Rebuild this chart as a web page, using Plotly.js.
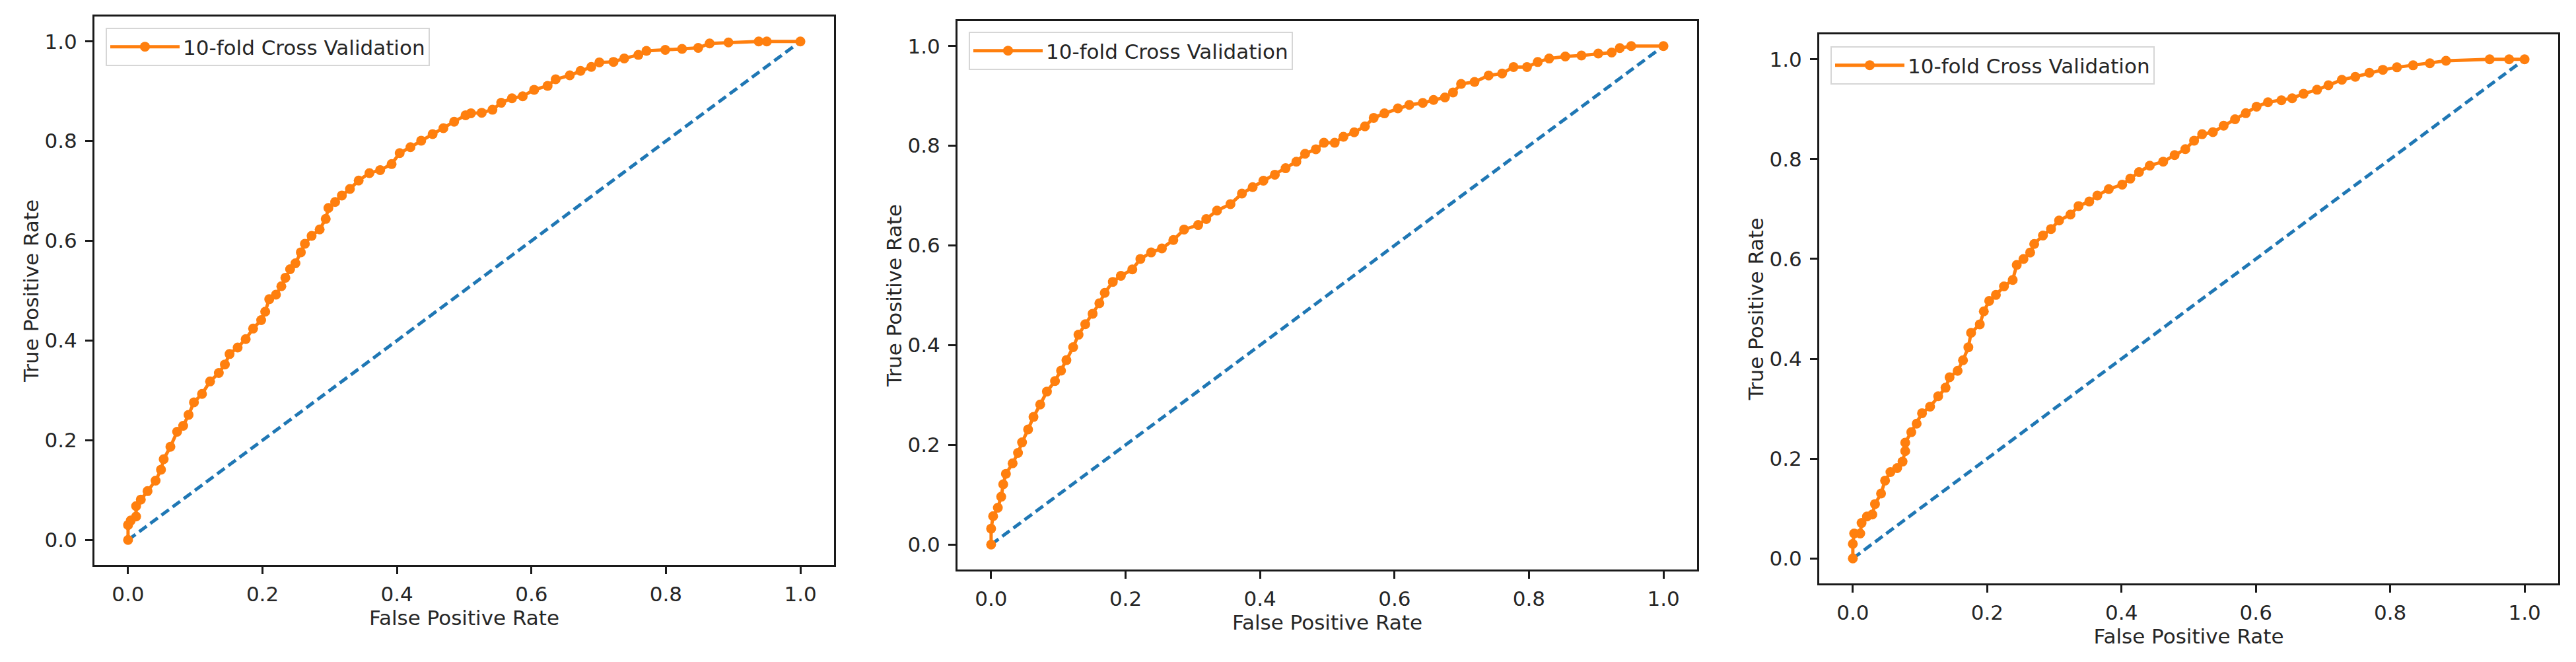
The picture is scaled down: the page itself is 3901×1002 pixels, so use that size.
<!DOCTYPE html>
<html>
<head>
<meta charset="utf-8">
<script src="https://cdn.plot.ly/plotly-3.0.1.min.js"></script>
<style>html,body{margin:0;padding:0;background:#fff;}#chart{width:3901px;height:1002px;}</style>
</head>
<body>
<div id="chart"></div>
<script>
// ---- Data (three ROC curves) ----
var legendName = "10-fold Cross Validation";
var xTitle = "False Positive Rate";
var yTitle = "True Positive Rate";
var tickVals = [0.0, 0.2, 0.4, 0.6, 0.8, 1.0];
var tickText = ["0.0", "0.2", "0.4", "0.6", "0.8", "1.0"];
var chanceX = [0, 1];
var chanceY = [0, 1];

var fpr1 = [0,0,0.004,0.012,0.012,0.019,0.029,0.041,0.049,0.053,0.063,0.073,0.082,0.090,0.098,0.110,0.122,0.135,0.144,0.151,0.163,0.175,0.186,0.198,0.204,0.210,0.220,0.228,0.234,0.241,0.249,0.257,0.263,0.273,0.285,0.294,0.298,0.308,0.318,0.330,0.343,0.359,0.375,0.392,0.404,0.420,0.436,0.453,0.469,0.485,0.502,0.510,0.526,0.542,0.555,0.571,0.587,0.604,0.624,0.636,0.657,0.673,0.689,0.701,0.722,0.738,0.759,0.771,0.799,0.824,0.848,0.865,0.893,0.938,0.950,1.0];
var tpr1 = [0,0.030,0.039,0.047,0.068,0.081,0.098,0.119,0.141,0.162,0.187,0.217,0.229,0.251,0.276,0.293,0.318,0.335,0.352,0.373,0.386,0.403,0.424,0.441,0.458,0.483,0.492,0.509,0.526,0.543,0.555,0.577,0.594,0.610,0.623,0.644,0.666,0.678,0.691,0.704,0.721,0.736,0.742,0.754,0.776,0.788,0.801,0.814,0.826,0.839,0.852,0.856,0.857,0.863,0.877,0.886,0.890,0.903,0.911,0.924,0.932,0.941,0.949,0.958,0.959,0.966,0.973,0.981,0.983,0.985,0.987,0.996,0.998,1.0,1.0,1.0];

var fpr2 = [0,0,0.003,0.010,0.015,0.018,0.022,0.032,0.040,0.046,0.055,0.063,0.073,0.083,0.095,0.104,0.112,0.122,0.130,0.140,0.151,0.161,0.169,0.181,0.193,0.210,0.222,0.238,0.254,0.271,0.287,0.308,0.320,0.336,0.356,0.373,0.389,0.405,0.422,0.438,0.454,0.467,0.483,0.495,0.511,0.524,0.540,0.556,0.569,0.585,0.605,0.622,0.642,0.658,0.675,0.687,0.699,0.719,0.740,0.760,0.777,0.797,0.813,0.830,0.854,0.878,0.903,0.923,0.935,0.952,1.0];
var tpr2 = [0,0.032,0.057,0.074,0.096,0.121,0.142,0.163,0.184,0.205,0.231,0.256,0.281,0.307,0.328,0.349,0.370,0.396,0.421,0.442,0.463,0.484,0.505,0.527,0.539,0.552,0.573,0.586,0.594,0.611,0.632,0.641,0.653,0.670,0.683,0.704,0.717,0.730,0.742,0.755,0.768,0.784,0.793,0.806,0.806,0.818,0.827,0.839,0.856,0.865,0.875,0.882,0.886,0.892,0.897,0.907,0.924,0.928,0.941,0.945,0.958,0.958,0.968,0.975,0.979,0.981,0.985,0.987,0.996,1.0,1.0];

var fpr3 = [0,0,0.002,0.011,0.013,0.021,0.029,0.033,0.042,0.048,0.056,0.066,0.074,0.078,0.078,0.087,0.095,0.103,0.115,0.127,0.138,0.144,0.156,0.164,0.172,0.176,0.189,0.195,0.203,0.213,0.225,0.238,0.244,0.254,0.264,0.270,0.283,0.295,0.307,0.324,0.336,0.352,0.364,0.381,0.401,0.413,0.426,0.442,0.462,0.479,0.495,0.508,0.520,0.536,0.552,0.569,0.585,0.601,0.618,0.638,0.654,0.671,0.691,0.708,0.728,0.748,0.769,0.789,0.810,0.834,0.859,0.883,0.948,0.977,1.0];
var tpr3 = [0,0.029,0.050,0.050,0.071,0.084,0.088,0.109,0.130,0.156,0.173,0.181,0.194,0.215,0.232,0.253,0.270,0.291,0.304,0.325,0.342,0.363,0.376,0.397,0.423,0.452,0.469,0.495,0.516,0.528,0.545,0.558,0.588,0.600,0.613,0.630,0.647,0.660,0.677,0.689,0.706,0.715,0.727,0.740,0.749,0.761,0.774,0.787,0.795,0.808,0.820,0.837,0.850,0.854,0.867,0.880,0.892,0.905,0.914,0.918,0.922,0.931,0.939,0.948,0.959,0.965,0.973,0.979,0.984,0.988,0.992,0.997,1.0,1.0,1.0];

var curves = [[fpr1, tpr1], [fpr2, tpr2], [fpr3, tpr3]];

// ---- Styling / layout ----
var W = 3901, H = 1002;
var FONT = "DejaVu Sans, sans-serif";
var FS = 31;
var orange = "#ff7f0e", blue = "#1f77b4";
// panel plot-area boxes in pixels [left, right, top, bottom]
var boxes = [[143, 1263, 25, 855], [1450, 2570, 32, 862], [2755, 3874, 52, 883]];
var legendPos = [[160, 42], [1467, 48], [2772, 70]];

var traces = [];
var layout = {
  width: W, height: H,
  margin: {l: 0, r: 0, t: 0, b: 0},
  paper_bgcolor: "#fff", plot_bgcolor: "#fff",
  font: {family: FONT, size: FS, color: "#262626"},
  showlegend: true
};

for (var i = 0; i < 3; i++) {
  var sfx = i === 0 ? "" : String(i + 1);
  var b = boxes[i];
  traces.push({
    x: chanceX, y: chanceY, type: "scatter", mode: "lines",
    xaxis: "x" + sfx, yaxis: "y" + sfx, showlegend: false, hoverinfo: "skip",
    line: {color: blue, width: 5, dash: "14px,7px"}
  });
  traces.push({
    x: curves[i][0], y: curves[i][1], type: "scatter", mode: "lines+markers",
    name: legendName, xaxis: "x" + sfx, yaxis: "y" + sfx,
    legend: "legend" + sfx,
    line: {color: orange, width: 5},
    marker: {color: orange, size: 15}
  });
  var axCommon = {
    range: [-0.05, 1.05], tickmode: "array", tickvals: tickVals, ticktext: tickText,
    showgrid: false, zeroline: false, showline: true, mirror: true,
    linecolor: "#1a1a1a", linewidth: 3, ticks: "outside", ticklen: 11, tickwidth: 3,
    tickcolor: "#1a1a1a", tickfont: {family: FONT, size: FS, color: "#262626"},
    fixedrange: true, automargin: false
  };
  var xa = Object.assign({}, axCommon, {
    domain: [b[0] / W, b[1] / W], anchor: "y" + sfx,
    title: {text: xTitle, font: {family: FONT, size: FS, color: "#262626"}, standoff: 0},
    ticklabelstandoff: 4
  });
  var ya = Object.assign({}, axCommon, {
    domain: [1 - b[3] / H, 1 - b[2] / H], anchor: "x" + sfx,
    title: {text: yTitle, font: {family: FONT, size: FS, color: "#262626"}, standoff: 0},
    ticklabelstandoff: 6
  });
  layout["xaxis" + sfx] = xa;
  layout["yaxis" + sfx] = ya;
  layout["legend" + sfx] = {
    x: legendPos[i][0] / W, y: 1 - legendPos[i][1] / H, xanchor: "left", yanchor: "top",
    xref: "paper", yref: "paper",
    bgcolor: "rgba(255,255,255,0.8)", bordercolor: "#d6d6d6", borderwidth: 2,
    font: {family: FONT, size: FS, color: "#262626"}, itemwidth: 105
  };
}

Plotly.newPlot("chart", traces, layout, {staticPlot: true, displayModeBar: false});
</script>
</body>
</html>
